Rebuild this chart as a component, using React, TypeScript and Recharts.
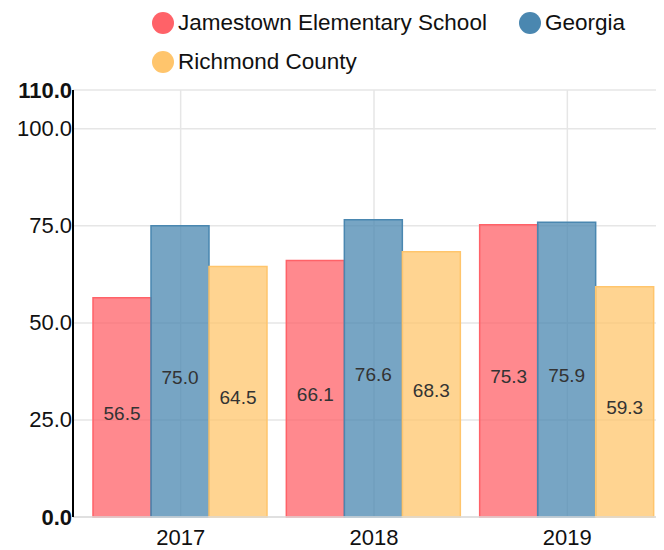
import React from 'react';
import { BarChart, Bar, XAxis, YAxis, CartesianGrid, Legend, LabelList } from 'recharts';

const years = ['2017', '2018', '2019'];
const jamestown = [56.5, 66.1, 75.3];
const georgia = [75.0, 76.6, 75.9];
const richmond = [64.5, 68.3, 59.3];
const yTicks = [0, 25, 50, 75, 100, 110];

const seriesInfo = [
  { key: 'jamestown', name: 'Jamestown Elementary School', color: '#ff6268' },
  { key: 'georgia', name: 'Georgia', color: '#4a87b0' },
  { key: 'richmond', name: 'Richmond County', color: '#ffc56c' },
];

const data = years.map((year, i) => ({
  year,
  jamestown: jamestown[i],
  georgia: georgia[i],
  richmond: richmond[i],
}));

const FONT = '"Liberation Sans", Arial, Helvetica, sans-serif';

const YTick = (props: any) => {
  const { x, y, payload } = props;
  const v = payload.value;
  const bold = v === 0 || v === 110;
  return (
    <text
      x={x - 1}
      y={y}
      textAnchor="end"
      dominantBaseline="central"
      fontSize={22}
      fontWeight={bold ? 'bold' : 'normal'}
      fill="#111"
      fontFamily={FONT}
    >
      {Number(v).toFixed(1)}
    </text>
  );
};

const XTick = (props: any) => {
  const { x, y, payload } = props;
  return (
    <text x={x} y={y + 20} textAnchor="middle" dominantBaseline="central" fontSize={22} fill="#111" fontFamily={FONT}>
      {payload.value}
    </text>
  );
};

const renderValue = (props: any) => {
  const { x, y, width, height, value } = props;
  return (
    <text
      x={x + width / 2}
      y={y + height / 2 + 6}
      textAnchor="middle"
      dominantBaseline="central"
      fontSize={19}
      fill="#333"
      fontFamily={FONT}
    >
      {Number(value).toFixed(1)}
    </text>
  );
};

const LegendContent = () => (
  <div
    style={{
      display: 'flex',
      flexWrap: 'wrap',
      width: 500,
      marginLeft: 144,
      columnGap: 32,
      rowGap: 13,
      paddingTop: 2,
      fontFamily: FONT,
      fontSize: 22.5,
      color: '#111',
    }}
  >
    {seriesInfo.map((s) => (
      <div key={s.key} style={{ display: 'flex', alignItems: 'center', height: 26 }}>
        <span
          style={{
            display: 'inline-block',
            width: 22,
            height: 22,
            borderRadius: '50%',
            background: s.color,
            marginRight: 4,
          }}
        />
        <span>{s.name}</span>
      </div>
    ))}
  </div>
);

export default function App() {
  return (
    <div style={{ fontFamily: FONT }}>
      <BarChart
        width={656}
        height={542}
        data={data}
        margin={{ top: 6, right: 0, bottom: 0, left: 0 }}
        barGap={0}
        barCategoryGap={9}
      >
        <Legend
          verticalAlign="top"
          align="left"
          content={<LegendContent />}
          wrapperStyle={{ top: 0, left: 0, width: 656, height: 76 }}
        />
        <CartesianGrid stroke="#e6e6e6" strokeWidth={1.5} />
        <XAxis
          dataKey="year"
          height={33}
          padding={{ left: 11, right: 0 }}
          tickLine={false}
          tickSize={0}
          tickMargin={0}
          axisLine={{ stroke: '#dcdcdc', strokeWidth: 1.5 }}
          tick={<XTick />}
        />
        <YAxis
          width={65}
          domain={[0, 110]}
          ticks={yTicks}
          interval={0}
          tickLine={false}
          tickSize={0}
          tickMargin={0}
          axisLine={{ stroke: '#000', strokeWidth: 2 }}
          tick={<YTick />}
        />
        {seriesInfo.map((s) => (
          <Bar
            key={s.key}
            dataKey={s.key}
            name={s.name}
            fill={s.color}
            fillOpacity={0.75}
            stroke={s.color}
            strokeWidth={1.5}
            isAnimationActive={false}
          >
            <LabelList dataKey={s.key} content={renderValue} />
          </Bar>
        ))}
      </BarChart>
    </div>
  );
}
